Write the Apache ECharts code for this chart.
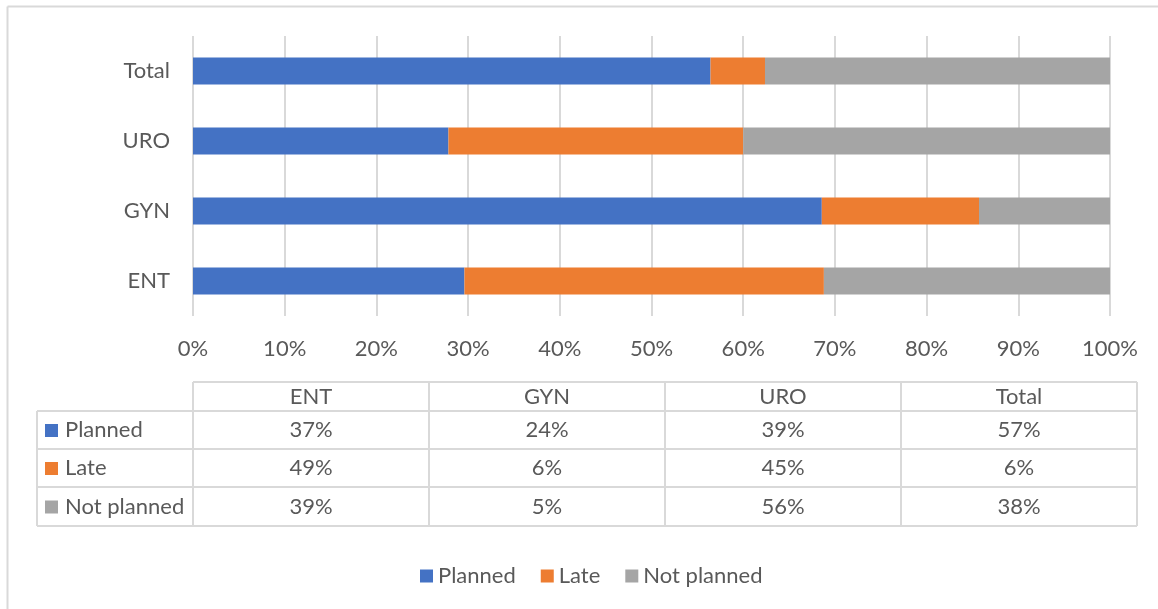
<!DOCTYPE html>
<html><head><meta charset="utf-8">
<script src="https://cdn.jsdelivr.net/npm/echarts@6/dist/echarts.min.js"></script>
<style>html,body{margin:0;padding:0;background:#fff}#c{width:1158px;height:609px}</style>
</head><body><div id="c"></div>
<script>
// ---- data ----
const categories = ['ENT', 'GYN', 'URO', 'Total'];
const seriesNames = ['Planned', 'Late', 'Not planned'];
const planned = [37, 24, 39, 57];
const late = [49, 6, 45, 6];
const notPlanned = [39, 5, 56, 38];
const xTicks = [0, 0.1, 0.2, 0.3, 0.4, 0.5, 0.6, 0.7, 0.8, 0.9, 1];
const colors = ['#4472C4', '#ED7D31', '#A5A5A5'];

const raw = [planned, late, notPlanned];
const totals = categories.map((_, i) => planned[i] + late[i] + notPlanned[i]);
const shares = raw.map(arr => arr.map((v, i) => v / totals[i]));

const FONT = 'Lato';
const FS = 22;
const TXT = '#595959';
const LINE = '#d9d9d9';

const chart = echarts.init(document.getElementById('c'), null, {renderer: 'canvas'});

// table layout
const tLeft = 37, tColStart = 193, tRight = 1137;
const rowY = [382, 411, 449, 487, 526];
const colW = (tRight - tColStart) / categories.length;
const g = [];
// outer border (top & left visible)
g.push({type: 'line', shape: {x1: 7.5, y1: 6.5, x2: 1158, y2: 6.5}, style: {stroke: LINE, lineWidth: 2}, silent: true});
g.push({type: 'line', shape: {x1: 7.5, y1: 6.5, x2: 7.5, y2: 609}, style: {stroke: LINE, lineWidth: 2}, silent: true});
// horizontal lines
rowY.forEach((y, r) => {
  g.push({type: 'line', shape: {x1: r === 0 ? tColStart : tLeft, y1: y, x2: tRight, y2: y}, style: {stroke: LINE, lineWidth: 2}, silent: true});
});
// vertical lines
g.push({type: 'line', shape: {x1: tLeft, y1: rowY[1], x2: tLeft, y2: rowY[4]}, style: {stroke: LINE, lineWidth: 2}, silent: true});
for (let c = 0; c <= categories.length; c++) {
  const x = tColStart + c * colW;
  g.push({type: 'line', shape: {x1: x, y1: rowY[0], x2: x, y2: rowY[4]}, style: {stroke: LINE, lineWidth: 2}, silent: true});
}
// header texts
categories.forEach((cat, c) => {
  g.push({type: 'text', x: tColStart + (c + 0.5) * colW, y: (rowY[0] + rowY[1]) / 2,
    style: {text: cat, fill: TXT, font: FS + 'px ' + FONT, align: 'center', verticalAlign: 'middle'}, silent: true});
});
// rows
seriesNames.forEach((name, r) => {
  const yc = (rowY[r + 1] + rowY[r + 2]) / 2;
  g.push({type: 'rect', shape: {x: 45, y: yc - 6, width: 13, height: 13}, style: {fill: colors[r]}, silent: true});
  g.push({type: 'text', x: 65, y: yc, style: {text: name, fill: TXT, font: FS + 'px ' + FONT, align: 'left', verticalAlign: 'middle'}, silent: true});
  categories.forEach((cat, c) => {
    g.push({type: 'text', x: tColStart + (c + 0.5) * colW, y: yc,
      style: {text: raw[r][c] + '%', fill: TXT, font: FS + 'px ' + FONT, align: 'center', verticalAlign: 'middle'}, silent: true});
  });
});

chart.setOption({
  animation: false,
  color: colors,
  textStyle: {fontFamily: FONT},
  grid: {left: 193, right: 48, top: 36, bottom: 293, containLabel: false},
  xAxis: {
    type: 'value', min: 0, max: 1, interval: 0.1,
    axisLine: {show: false}, axisTick: {show: false},
    splitLine: {show: true, lineStyle: {color: LINE, width: 2}},
    axisLabel: {color: TXT, fontSize: FS, fontFamily: FONT, margin: 22,
      formatter: v => Math.round(v * 100) + '%'}
  },
  yAxis: {
    type: 'category', data: categories,
    axisLine: {show: false}, axisTick: {show: false},
    axisLabel: {color: TXT, fontSize: FS, fontFamily: FONT, margin: 23}
  },
  legend: {
    bottom: 17, left: 415, itemWidth: 13, itemHeight: 13, itemGap: 25,
    icon: 'rect',
    textStyle: {color: TXT, fontSize: FS, fontFamily: FONT},
    data: seriesNames
  },
  series: seriesNames.map((name, i) => ({
    name, type: 'bar', stack: 'all', barWidth: 27,
    data: shares[i],
    itemStyle: {color: colors[i]}
  })),
  graphic: g
});
</script></body></html>
